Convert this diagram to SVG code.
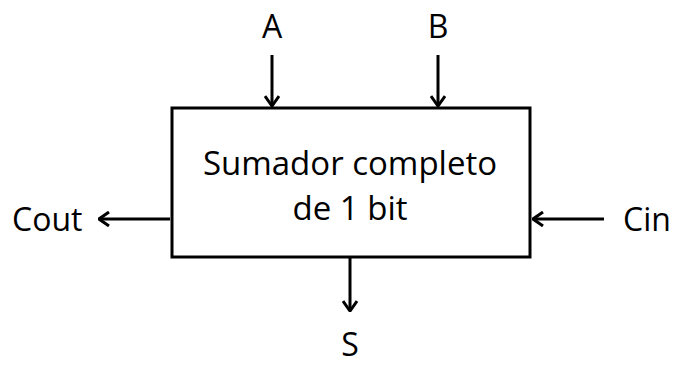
<svg xmlns="http://www.w3.org/2000/svg" width="674" height="365" viewBox="0 0 674 365">
<style>
.t{font-family:"Open Sans","Noto Sans","Liberation Sans",sans-serif;font-size:32px;fill:#000}
.m{font-size:33px}
.ln{stroke:#000;stroke-width:3;fill:none}
</style>
<defs>
<marker id="ah" viewBox="0 0 12 16" refX="11" refY="8" markerWidth="12" markerHeight="16" markerUnits="userSpaceOnUse" orient="auto">
<path d="M1,1 L11,8 L1,15" fill="none" stroke="#000" stroke-width="3"/>
</marker>
</defs>
<rect width="674" height="365" fill="#fff"/>
<g id="adder">
<rect class="ln" x="172" y="108" width="358" height="149"/>
<text class="t m" x="350" y="175" text-anchor="middle">Sumador completo</text>
<text class="t m" x="350" y="220" text-anchor="middle">de 1 bit</text>
</g>
<g id="A"><text class="t" x="272" y="38" text-anchor="middle">A</text></g>
<g id="B"><text class="t" x="438" y="38" text-anchor="middle">B</text></g>
<g id="Cout"><text class="t" x="12" y="231">Cout</text></g>
<g id="Cin"><text class="t" x="623" y="231">Cin</text></g>
<g id="S"><text class="t" x="350" y="356" text-anchor="middle">S</text></g>
<g id="connectors">
<line class="ln" x1="272" y1="55" x2="272" y2="106" marker-end="url(#ah)"/>
<line class="ln" x1="438" y1="55" x2="438" y2="106" marker-end="url(#ah)"/>
<line class="ln" x1="170" y1="219" x2="99" y2="219" marker-end="url(#ah)"/>
<line class="ln" x1="604" y1="219" x2="533" y2="219" marker-end="url(#ah)"/>
<line class="ln" x1="350" y1="258" x2="350" y2="311" marker-end="url(#ah)"/>
</g>
</svg>
